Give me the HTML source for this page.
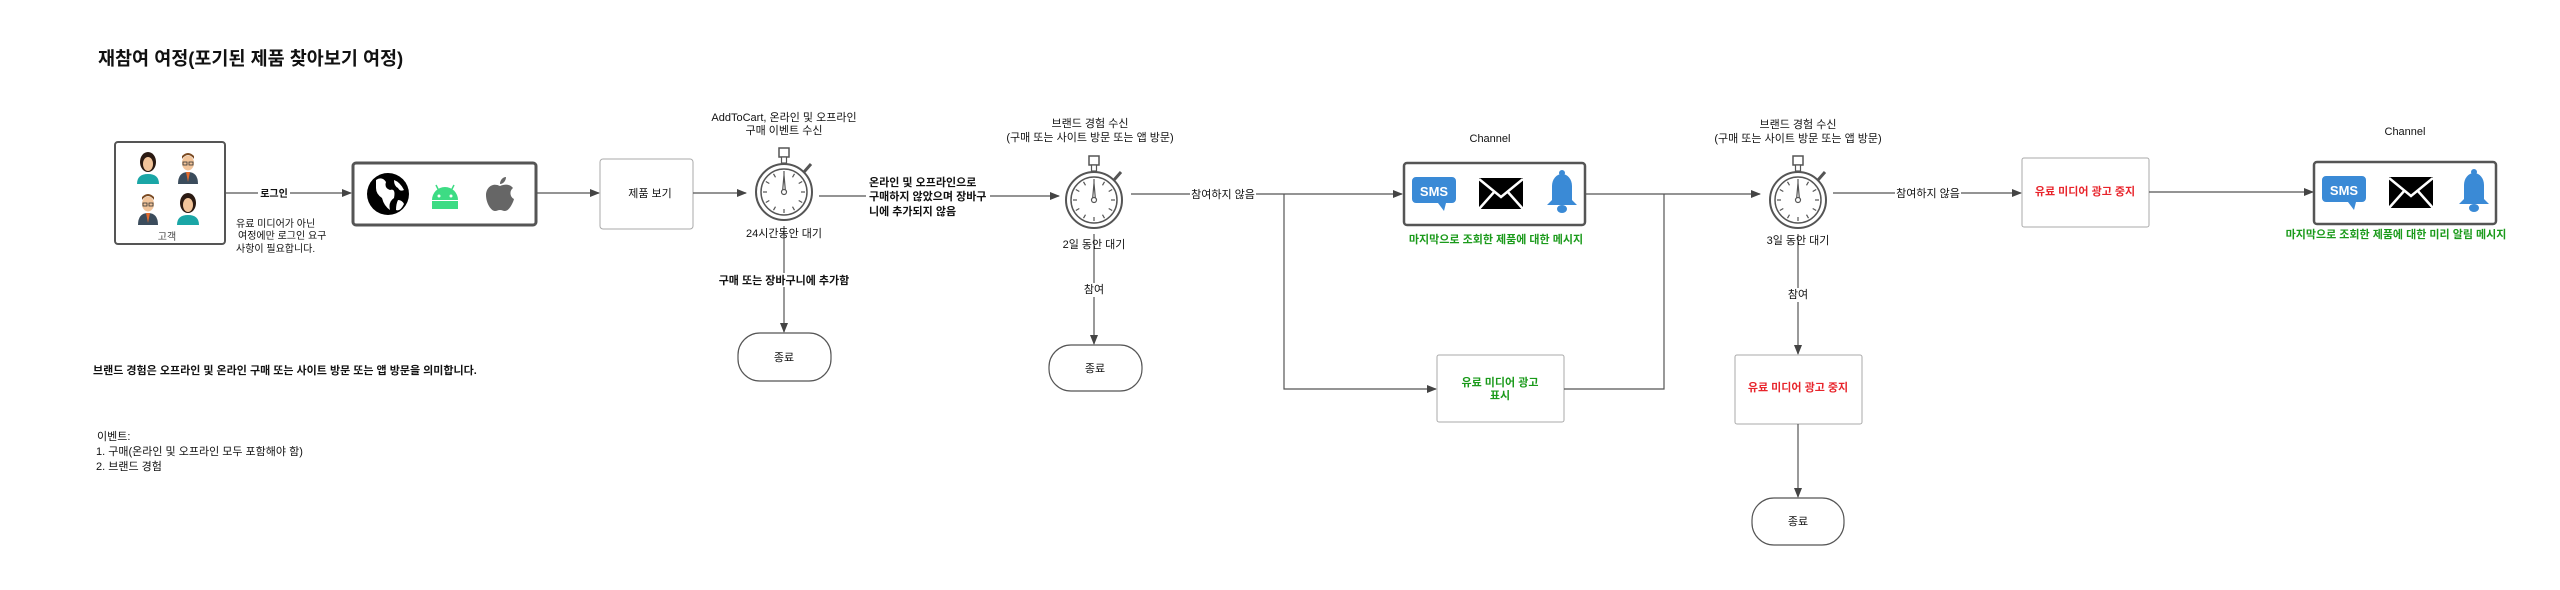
<!DOCTYPE html>
<html><head><meta charset="utf-8"><style>
html,body{margin:0;padding:0;background:#fff;}
svg{display:block;}
text{font-family:"Liberation Sans","Noto Sans CJK KR",sans-serif;fill:#111;}
.l{font-size:11px;}
.b{font-size:11px;font-weight:bold;}
.g{fill:#1a9a1a;font-weight:bold;font-size:11px;}
.r{fill:#e8242b;font-weight:bold;font-size:11px;}
.ln{stroke:#555;stroke-width:1.2;fill:none;}
</style></head><body>
<svg width="2560" height="590" viewBox="0 0 2560 590" xmlns="http://www.w3.org/2000/svg">
<defs>
<marker id="ar" markerWidth="10" markerHeight="10" refX="9" refY="5" orient="auto" markerUnits="userSpaceOnUse">
<path d="M0,1 L10,5 L0,9 z" fill="#444"/></marker>
<g id="sw">
<rect x="-5" y="-44" width="10" height="9" fill="#fff" stroke="#555" stroke-width="1.5"/>
<rect x="-2.5" y="-35" width="5" height="6" fill="#fff" stroke="#555" stroke-width="1.2"/>
<line x1="20" y1="-20" x2="27" y2="-28" stroke="#555" stroke-width="3"/>
<circle r="28" fill="#fff" stroke="#555" stroke-width="2"/>
<circle r="23" fill="#fff" stroke="#555" stroke-width="1.5"/>
<g stroke="#555" stroke-width="1.2">
<line x1="0" y1="-21" x2="0" y2="-17"/><line x1="0" y1="21" x2="0" y2="17"/>
<line x1="-21" y1="0" x2="-17" y2="0"/><line x1="21" y1="0" x2="17" y2="0"/>
<line x1="10.5" y1="-18.2" x2="8.5" y2="-14.7"/><line x1="18.2" y1="-10.5" x2="14.7" y2="-8.5"/>
<line x1="18.2" y1="10.5" x2="14.7" y2="8.5"/><line x1="10.5" y1="18.2" x2="8.5" y2="14.7"/>
<line x1="-10.5" y1="18.2" x2="-8.5" y2="14.7"/><line x1="-18.2" y1="10.5" x2="-14.7" y2="8.5"/>
<line x1="-18.2" y1="-10.5" x2="-14.7" y2="-8.5"/><line x1="-10.5" y1="-18.2" x2="-8.5" y2="-14.7"/>
</g>
<path d="M-1.5,0 L0,-17 L1.5,0 z" fill="#fff" stroke="#555" stroke-width="1.2"/>
<circle r="2.5" fill="#fff" stroke="#555" stroke-width="1.2"/>
</g>
<g id="sms">
<path d="M-18,-14 h36 a4,4 0 0 1 4,4 v18 a4,4 0 0 1 -4,4 h-6 l-2,8 l-6,-8 h-22 a4,4 0 0 1 -4,-4 v-18 a4,4 0 0 1 4,-4z" fill="#3a8ad6"/>
<text x="0" y="5" text-anchor="middle" style="font-size:13px;fill:#fff;font-weight:bold">SMS</text>
</g>
<g id="env">
<rect x="-22" y="-15" width="44" height="31" fill="#000"/>
<path d="M-22,-14 L0,4 L22,-14 M-22,16 L-6,-2 M22,16 L6,-2" stroke="#fff" stroke-width="2.5" fill="none"/>
</g>
<g id="bell">
<circle cx="0" cy="-19" r="3" fill="#3a8ad6"/>
<path d="M-10,8 L-10,-6 a10,12 0 0 1 20,0 L10,8 L15,13 L-15,13 z" fill="#3a8ad6"/>
<ellipse cx="0" cy="17" rx="5" ry="4" fill="#3a8ad6"/>
</g>
<g id="woman">
<ellipse cx="0" cy="-6" rx="8" ry="10" fill="#2b1a12"/>
<ellipse cx="0" cy="-4" rx="5" ry="7" fill="#f2c49a"/>
<path d="M-11,16 q0,-10 11,-10 q11,0 11,10 z" fill="#1aa6a6"/>
</g>
<g id="man">
<ellipse cx="0" cy="-5" rx="6" ry="7.5" fill="#f2c49a"/>
<path d="M-6,-9 q6,-8 12,0 l0,-3 q-6,-6 -12,0z" fill="#7a4a22"/>
<rect x="-5" y="-6" width="4" height="3" fill="none" stroke="#333" stroke-width="0.8"/>
<rect x="1" y="-6" width="4" height="3" fill="none" stroke="#333" stroke-width="0.8"/>
<path d="M-10,16 q0,-12 10,-12 q10,0 10,12 z" fill="#3b4c5c"/>
<path d="M-2,4 L0,14 L2,4z" fill="#e26a2c"/>
</g>
</defs>

<text x="98" y="65" style="font-size:18.5px;font-weight:bold">재참여 여정(포기된 제품 찾아보기 여정)</text>

<!-- customer box -->
<rect x="115" y="142" width="110" height="102" rx="3" fill="#fff" stroke="#555" stroke-width="2"/>
<use href="#woman" x="148" y="168"/>
<use href="#man" x="188" y="168"/>
<use href="#man" x="148" y="209"/>
<use href="#woman" x="188" y="209"/>
<text x="167" y="240" text-anchor="middle" class="l" style="font-size:10px;fill:#444">고객</text>

<line x1="225" y1="193" x2="351" y2="193" class="ln" marker-end="url(#ar)"/>
<rect x="258" y="186" width="32" height="14" fill="#fff"/>
<text x="274" y="197" text-anchor="middle" class="b" style="font-size:10px">로그인</text>
<text x="236" y="227" class="l" style="font-size:10px">유료 미디어가 아닌</text>
<text x="238" y="239" class="l" style="font-size:10px">여정에만 로그인 요구</text>
<text x="236" y="252" class="l" style="font-size:10px">사항이 필요합니다.</text>

<!-- devices -->
<rect x="353" y="163" width="183" height="62" rx="3" fill="#fff" stroke="#555" stroke-width="3"/>
<circle cx="388" cy="194" r="21" fill="#000"/>
<path d="M376,180 q6,-4 10,2 q-2,6 4,8 q6,-2 4,8 q-6,4 -4,12 q-6,-4 -8,-12 q-6,-4 -6,-10z M394,180 q6,2 10,10 q-4,2 -6,-2 q-4,-2 -4,-8z M398,200 q4,0 6,4 q-4,8 -8,6 q0,-6 2,-10z" fill="#fff"/>
<path d="M432,200 a13,13 0 0 1 26,0 z" fill="#3ddc84"/>
<rect x="432" y="201" width="26" height="8" fill="#3ddc84"/>
<line x1="436" y1="185" x2="439" y2="191" stroke="#3ddc84" stroke-width="1.5"/>
<line x1="454" y1="185" x2="451" y2="191" stroke="#3ddc84" stroke-width="1.5"/>
<circle cx="439" cy="196" r="1.5" fill="#fff"/><circle cx="451" cy="196" r="1.5" fill="#fff"/>
<path d="M500,186 c-8,-4 -14,2 -14,9 c0,8 5,16 9,16 c2,0 3,-1 5,-1 c2,0 3,1 5,1 c4,0 8,-8 9,-12 c-4,-2 -5,-8 -1,-11 c-3,-4 -8,-4 -13,-2z M500,184 c0,-4 3,-7 6,-7 c0,4 -3,7 -6,7z" fill="#666"/>

<line x1="536" y1="193" x2="599" y2="193" class="ln" stroke="#888" marker-end="url(#ar)"/>
<rect x="600" y="159" width="93" height="70" rx="3" fill="#fff" stroke="#aaa" stroke-width="1"/>
<text x="650" y="197" text-anchor="middle" class="l">제품 보기</text>
<line x1="693" y1="193" x2="746" y2="193" class="ln" stroke="#888" marker-end="url(#ar)"/>

<!-- stopwatch 1 -->
<text x="784" y="121" text-anchor="middle" class="l">AddToCart, 온라인 및 오프라인</text>
<text x="784" y="134" text-anchor="middle" class="l">구매 이벤트 수신</text>
<use href="#sw" x="784" y="192"/>
<line x1="784" y1="226" x2="784" y2="332" class="ln" marker-end="url(#ar)"/>
<text x="784" y="237" text-anchor="middle" class="l">24시간동안 대기</text>
<rect x="716" y="273" width="136" height="14" fill="#fff"/>
<text x="784" y="284" text-anchor="middle" class="b">구매 또는 장바구니에 추가함</text>
<rect x="738" y="333" width="93" height="48" rx="22" fill="#fff" stroke="#555" stroke-width="1.2"/>
<text x="784" y="361" text-anchor="middle" class="l">종료</text>

<line x1="819" y1="196" x2="1059" y2="196" class="ln" marker-end="url(#ar)"/>
<rect x="866" y="174" width="124" height="42" fill="#fff"/>
<text x="869" y="186" class="b">온라인 및 오프라인으로</text>
<text x="869" y="200" class="b">구매하지 않았으며 장바구</text>
<text x="869" y="215" class="b">니에 추가되지 않음</text>

<!-- stopwatch 2 -->
<text x="1090" y="127" text-anchor="middle" class="l">브랜드 경험 수신</text>
<text x="1090" y="141" text-anchor="middle" class="l">(구매 또는 사이트 방문 또는 앱 방문)</text>
<use href="#sw" x="1094" y="200"/>
<line x1="1094" y1="234" x2="1094" y2="344" class="ln" marker-end="url(#ar)"/>
<text x="1094" y="248" text-anchor="middle" class="l">2일 동안 대기</text>
<rect x="1082" y="283" width="24" height="14" fill="#fff"/>
<text x="1094" y="293" text-anchor="middle" class="l">참여</text>
<rect x="1049" y="345" width="93" height="46" rx="22" fill="#fff" stroke="#555" stroke-width="1.2"/>
<text x="1095" y="372" text-anchor="middle" class="l">종료</text>

<line x1="1131" y1="194" x2="1402" y2="194" class="ln" marker-end="url(#ar)"/>
<rect x="1190" y="187" width="66" height="14" fill="#fff"/>
<text x="1223" y="198" text-anchor="middle" class="l">참여하지 않음</text>
<path d="M1284,194 V389 H1436" class="ln" stroke="#888" marker-end="url(#ar)"/>

<!-- channel 1 -->
<text x="1490" y="142" text-anchor="middle" class="l">Channel</text>
<rect x="1404" y="163" width="181" height="62" rx="3" fill="#fff" stroke="#555" stroke-width="2.5"/>
<use href="#sms" x="1434" y="191"/>
<use href="#env" x="1501" y="193"/>
<use href="#bell" x="1562" y="192"/>
<text x="1496" y="243" text-anchor="middle" class="g">마지막으로 조회한 제품에 대한 메시지</text>

<rect x="1437" y="355" width="127" height="67" rx="2" fill="#fff" stroke="#aaa" stroke-width="1"/>
<text x="1500" y="386" text-anchor="middle" class="g">유료 미디어 광고</text>
<text x="1500" y="399" text-anchor="middle" class="g">표시</text>

<path d="M1586,194 H1760" class="ln" stroke="#999" marker-end="url(#ar)"/>
<path d="M1564,389 H1664 V194" class="ln" stroke="#888"/>

<!-- stopwatch 3 -->
<text x="1798" y="128" text-anchor="middle" class="l">브랜드 경험 수신</text>
<text x="1798" y="142" text-anchor="middle" class="l">(구매 또는 사이트 방문 또는 앱 방문)</text>
<use href="#sw" x="1798" y="200"/>
<line x1="1798" y1="234" x2="1798" y2="354" class="ln" marker-end="url(#ar)"/>
<text x="1798" y="244" text-anchor="middle" class="l">3일 동안 대기</text>
<rect x="1786" y="288" width="24" height="14" fill="#fff"/>
<text x="1798" y="298" text-anchor="middle" class="l">참여</text>
<rect x="1735" y="355" width="127" height="69" rx="2" fill="#fff" stroke="#aaa" stroke-width="1"/>
<text x="1798" y="391" text-anchor="middle" class="r">유료 미디어 광고 중지</text>
<line x1="1798" y1="424" x2="1798" y2="497" class="ln" marker-end="url(#ar)"/>
<rect x="1752" y="498" width="92" height="47" rx="22" fill="#fff" stroke="#555" stroke-width="1.2"/>
<text x="1798" y="525" text-anchor="middle" class="l">종료</text>

<line x1="1833" y1="193" x2="2021" y2="193" class="ln" marker-end="url(#ar)"/>
<rect x="1895" y="186" width="66" height="14" fill="#fff"/>
<text x="1928" y="197" text-anchor="middle" class="l">참여하지 않음</text>
<rect x="2022" y="158" width="127" height="69" rx="2" fill="#fff" stroke="#aaa" stroke-width="1"/>
<text x="2085" y="195" text-anchor="middle" class="r">유료 미디어 광고 중지</text>
<line x1="2149" y1="192" x2="2313" y2="192" class="ln" stroke="#888" marker-end="url(#ar)"/>

<!-- channel 2 -->
<text x="2405" y="135" text-anchor="middle" class="l">Channel</text>
<rect x="2314" y="162" width="182" height="62" rx="3" fill="#fff" stroke="#555" stroke-width="2.5"/>
<use href="#sms" x="2344" y="190"/>
<use href="#env" x="2411" y="192"/>
<use href="#bell" x="2474" y="191"/>
<text x="2396" y="238" text-anchor="middle" class="g">마지막으로 조회한 제품에 대한 미리 알림 메시지</text>

<!-- notes -->
<text x="93" y="374" class="b">브랜드 경험은 오프라인 및 온라인 구매 또는 사이트 방문 또는 앱 방문을 의미합니다.</text>
<text x="97" y="440" class="l">이벤트:</text>
<text x="96" y="455" class="l">1. 구매(온라인 및 오프라인 모두 포함해야 함)</text>
<text x="96" y="470" class="l">2. 브랜드 경험</text>
</svg>
</body></html>
